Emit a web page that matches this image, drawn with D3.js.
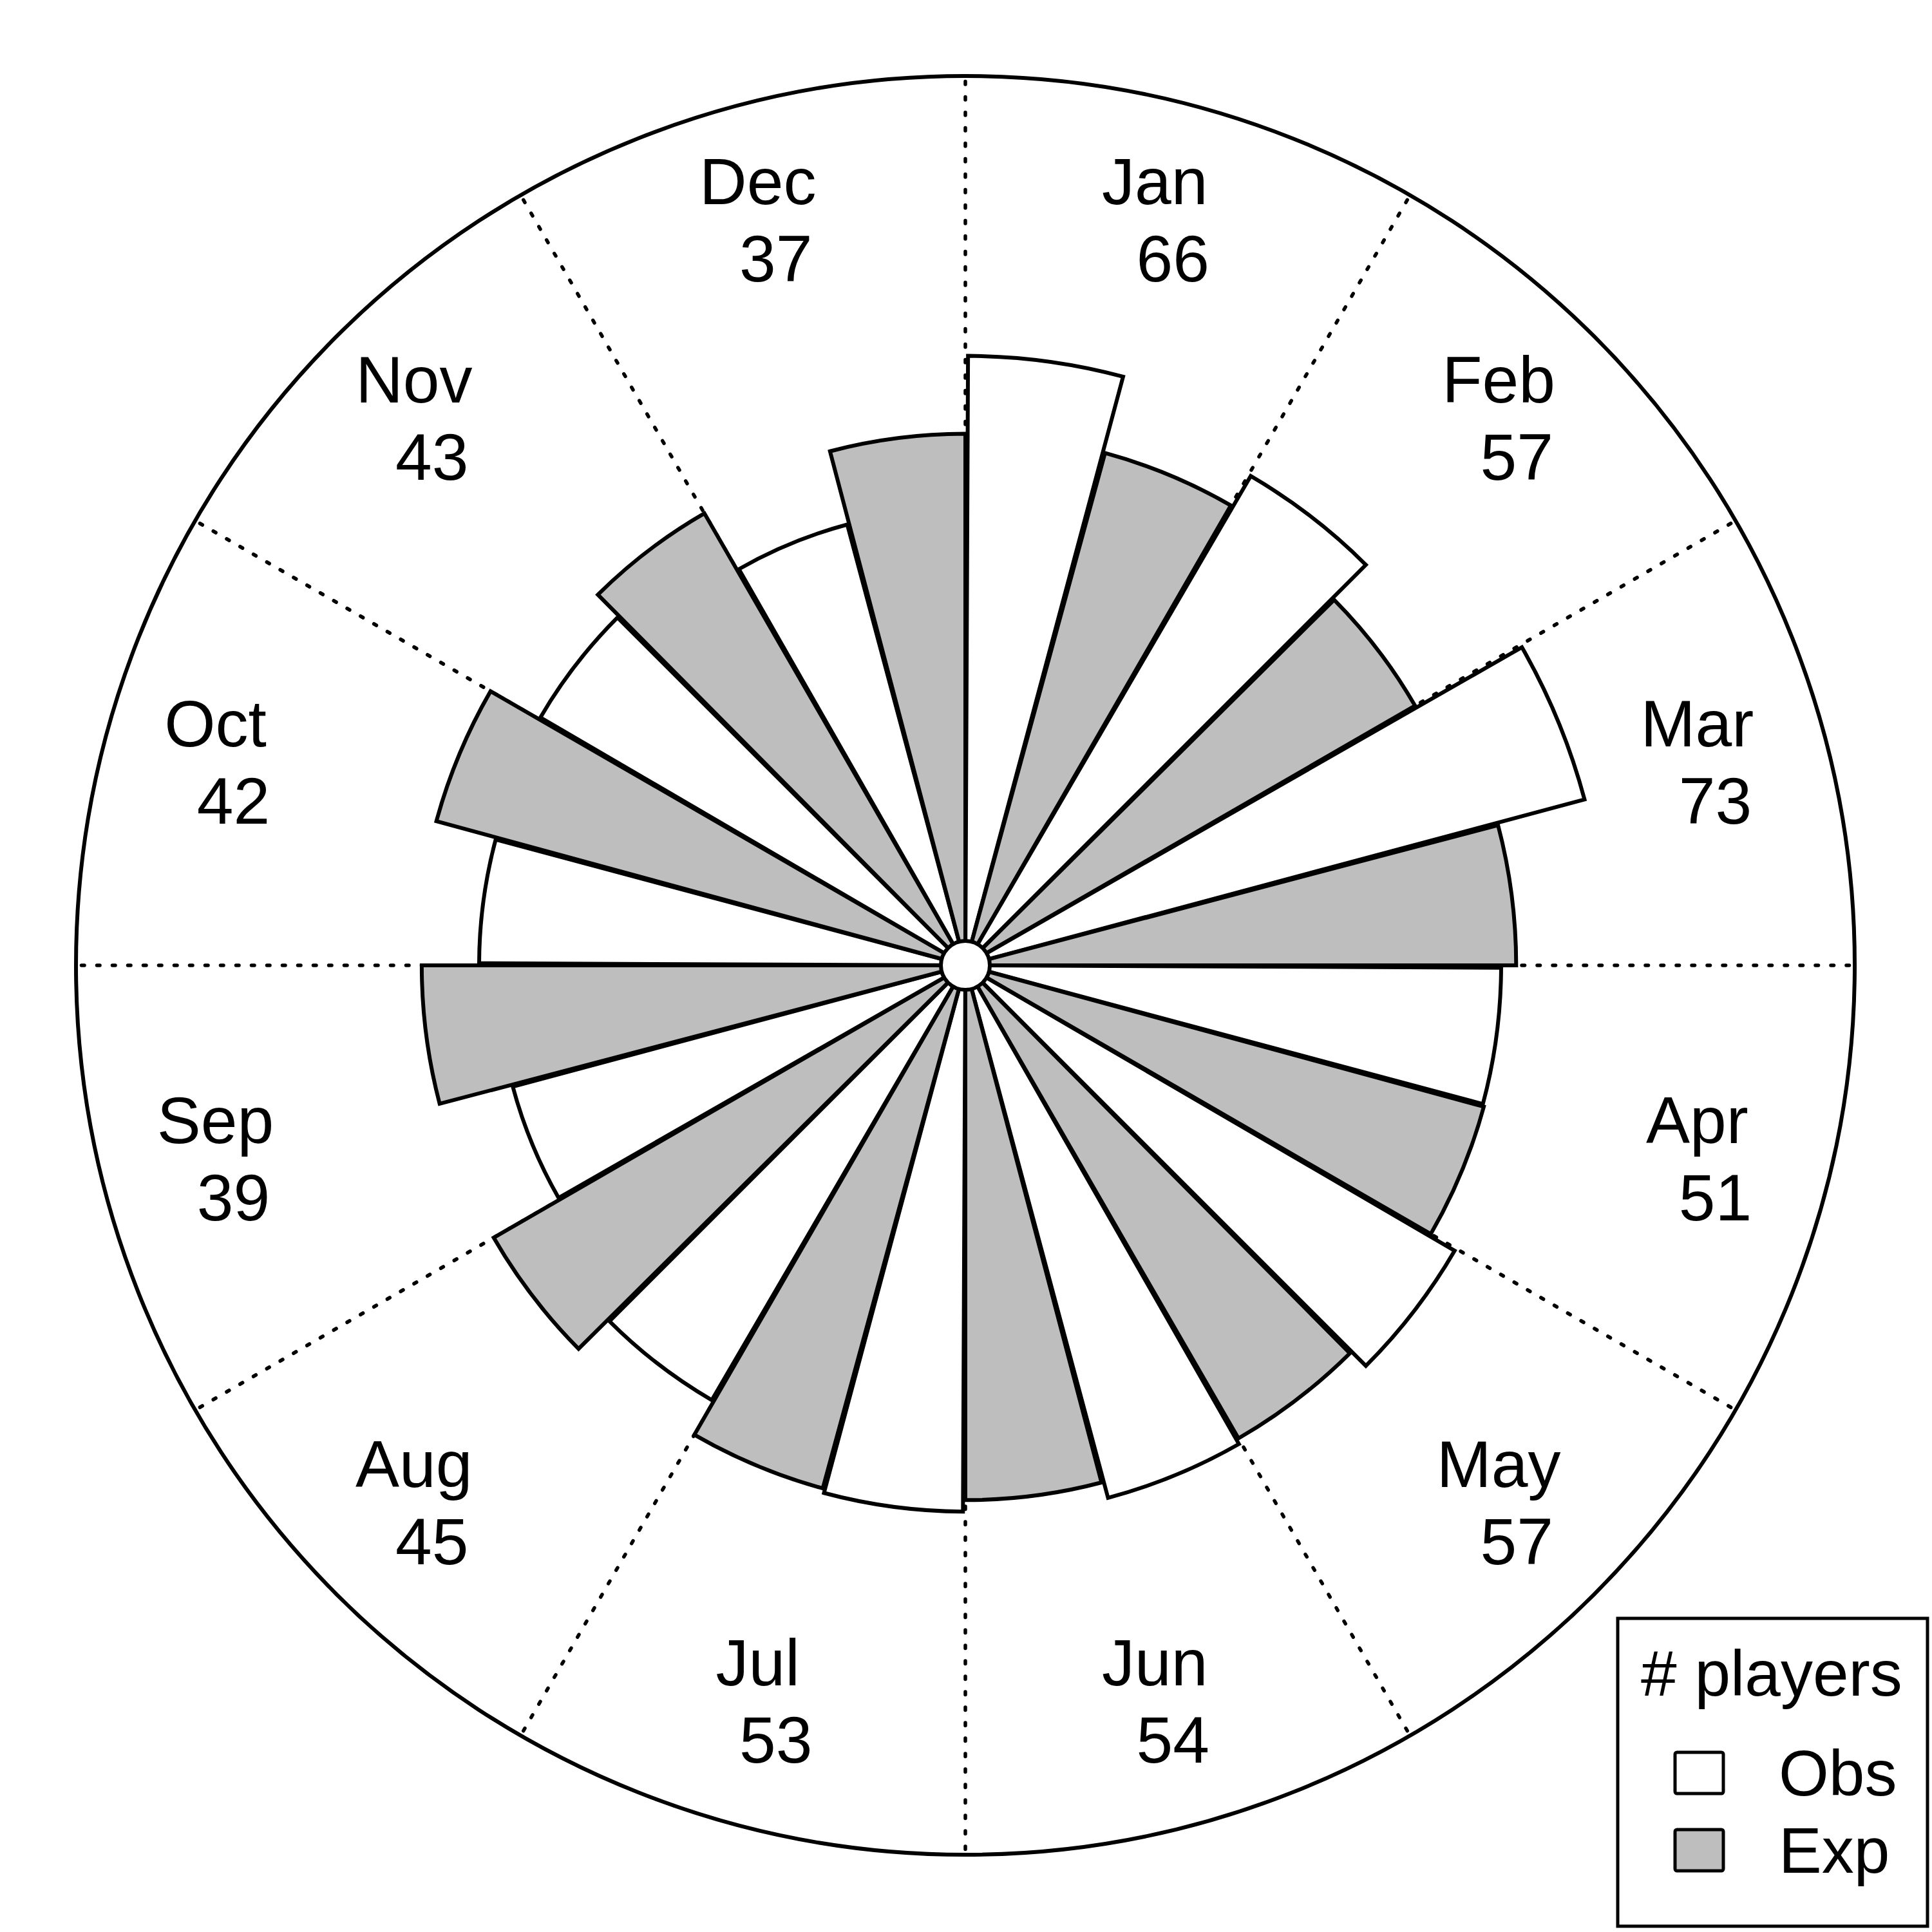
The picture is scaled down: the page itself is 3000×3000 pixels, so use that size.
<!DOCTYPE html>
<html>
<head>
<meta charset="utf-8">
<script src="https://cdn.jsdelivr.net/npm/d3@7"></script>
<style>
  html, body { margin: 0; padding: 0; background: #ffffff; }
  svg { display: block; }
  text { font-family: "Liberation Sans", Arial, Helvetica, sans-serif; fill: #000; }
</style>
</head>
<body>
<script>
// ---- data ----
const months = ["Jan","Feb","Mar","Apr","May","Jun","Jul","Aug","Sep","Oct","Nov","Dec"];
const observed = [66, 57, 73, 51, 57, 54, 53, 45, 39, 42, 43, 37];
const expected = [50.1, 47.9, 53.9, 51.3, 53.0, 50.8, 52.2, 52.7, 52.5, 53.4, 48.4, 50.2];
const legendTitle = "# players";
const seriesNames = ["Obs", "Exp"];

// ---- layout ----
const W = 3000, H = 3000;
const cx = 1499, cy = 1499;
const outerR = 1381;
const labelR = 1191;
const labelDy = -9;
const gray = "#bebebe";
const lw = 6;

const svg = d3.select("body").append("svg")
  .attr("width", W).attr("height", H)
  .attr("viewBox", `0 0 ${W} ${H}`);
svg.append("rect").attr("width", W).attr("height", H).attr("fill", "#fff");

const g = svg.append("g").attr("transform", `translate(${cx},${cy})`);

// radial sqrt scale (bar area proportional to count)
const r = d3.scaleSqrt().domain([0, 100]).range([0, 1165]);
// angular scale by month
const ang = d3.scaleBand().domain(months).range([0, 2 * Math.PI]);
const step = ang.bandwidth();
const half = step / 2;
const delta = 0.25 * Math.PI / 180;

// dotted month boundaries
g.selectAll("line.grid").data(months).join("line")
  .attr("class", "grid")
  .attr("x1", 0).attr("y1", 0)
  .attr("x2", d => outerR * Math.sin(ang(d)))
  .attr("y2", d => -outerR * Math.cos(ang(d)))
  .attr("stroke", "#000").attr("stroke-width", 5.5)
  .attr("stroke-dasharray", "4.5 19.5").attr("stroke-linecap", "round");

// outer circle
g.append("circle").attr("r", outerR)
  .attr("fill", "none").attr("stroke", "#000").attr("stroke-width", 6);

const arc = d3.arc().innerRadius(0);

const bars = [];
months.forEach((m, i) => {
  const a = ang(m);
  bars.push({ start: a + delta, end: a + half, value: observed[i], fill: "#fff" });
  bars.push({ start: a + half + delta, end: a + step, value: expected[i], fill: gray });
});

g.selectAll("path.bar").data(bars).join("path")
  .attr("class", "bar")
  .attr("d", d => arc({ startAngle: d.start, endAngle: d.end, outerRadius: r(d.value) }))
  .attr("fill", d => d.fill)
  .attr("stroke", "#000").attr("stroke-width", lw)
  .attr("stroke-linejoin", "miter");

// center hub
g.append("circle").attr("r", 38).attr("fill", "#fff")
  .attr("stroke", "#000").attr("stroke-width", lw);

// labels
const lab = g.selectAll("g.lab").data(months).join("g").attr("class", "lab")
  .attr("transform", d => {
    const a = ang(d) + half;
    return `translate(${labelR * Math.sin(a)},${-labelR * Math.cos(a) + labelDy})`;
  });
lab.append("text").attr("x", -14).attr("y", -23)
  .attr("text-anchor", "middle").attr("font-size", 102)
  .text(d => d);
lab.append("text").attr("x", 14).attr("y", 97)
  .attr("text-anchor", "middle").attr("font-size", 102)
  .text((d, i) => observed[i]);

// legend
const lg = svg.append("g");
lg.append("rect").attr("x", 2512).attr("y", 2513).attr("width", 481).attr("height", 478)
  .attr("fill", "#fff").attr("stroke", "#000").attr("stroke-width", 5);
lg.append("text").attr("x", 2751).attr("y", 2633).attr("text-anchor", "middle")
  .attr("font-size", 100).text(legendTitle);
const fills = ["#fff", gray];
seriesNames.forEach((s, i) => {
  const y0 = 2721 + i * 120;
  lg.append("rect").attr("x", 2601).attr("y", y0).attr("width", 75).attr("height", 64)
    .attr("rx", 3).attr("fill", fills[i]).attr("stroke", "#000").attr("stroke-width", 5);
  lg.append("text").attr("x", 2762).attr("y", y0 + 67).attr("font-size", 100).text(s);
});
</script>
</body>
</html>
